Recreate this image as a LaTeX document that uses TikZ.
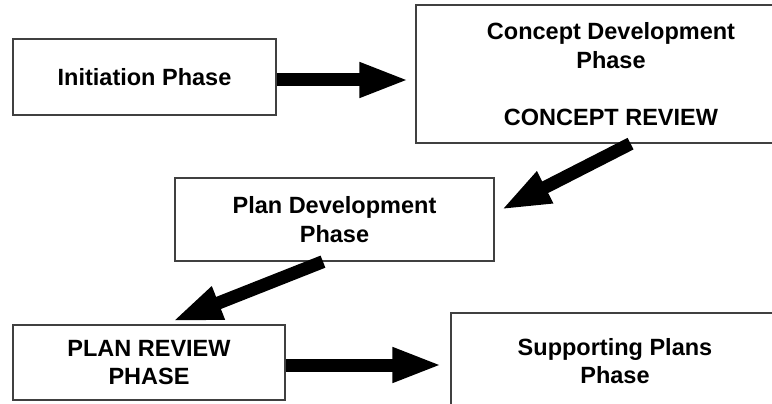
\documentclass[tikz,border=0pt]{standalone}
\usepackage{fontspec}
\setmainfont{Liberation Sans}
\usetikzlibrary{calc,arrows.meta}
\tikzset{
	phasebox/.style={draw=black!75, line width=1.3pt, inner sep=0pt, align=center,
		font=\bfseries\fontsize{23.5}{28.5}\selectfont},
	bigarrow/.style={line width=13pt, -{Triangle[length=50pt,width=32pt]}}
}

\begin{document}
\begin{tikzpicture}[x=1pt, y=-1pt]
			%%%%% START %%%%%
			
			\useasboundingbox (0, 0) rectangle (772, 404);
			
			\node[phasebox, minimum width=263pt, minimum height=76pt] (init) at (144.5, 77) {Initiation Phase};
			\node[phasebox, minimum width=390pt, minimum height=138pt] (concept) at (611, 74) {Concept Development\\Phase\\[28.5pt]CONCEPT REVIEW};
			\node[phasebox, minimum width=319pt, minimum height=83pt] (plandev) at (334.5, 219.5) {Plan Development\\Phase};
			\node[phasebox, minimum width=272pt, minimum height=75pt] (review) at (149, 362.5) {PLAN REVIEW\\PHASE};
			\node[phasebox, minimum width=328pt, minimum height=96pt] (support) at (615, 361) {Supporting Plans\\Phase};
			
			% arrows between the phases
			\draw[bigarrow, shorten >=6pt] ([yshift=-3pt]init.east) -- ([yshift=-3pt]init.east -| concept.west);
			\draw[bigarrow] ($(concept.south west)!0.55!(concept.south east)$) -- ([xshift=6pt, yshift=9.5pt]plandev.east);
			\draw[bigarrow] ($(plandev.south west)!0.464!(plandev.south east)$) -- ([xshift=23pt, yshift=3pt]review.north);
			\draw[bigarrow, shorten >=8pt] ([yshift=-2.5pt]review.east) -- ([yshift=-2.5pt]review.east -| support.west);
			
			%%%%% END %%%%%
\end{tikzpicture}
\end{document}
